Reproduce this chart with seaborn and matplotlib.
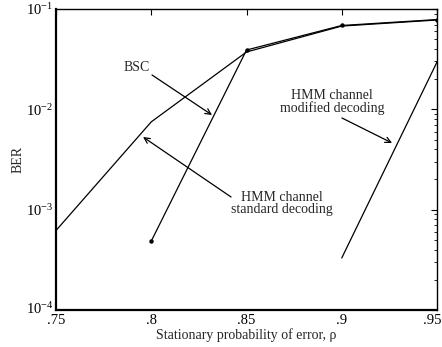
import numpy as np
import pandas as pd
import matplotlib
matplotlib.use("Agg")
import matplotlib.pyplot as plt
import matplotlib.transforms as mtrans
import seaborn as sns
from matplotlib.ticker import FixedLocator, FixedFormatter, LogLocator, NullFormatter

# ---- data ----
rho_std = [0.75, 0.80, 0.85, 0.90, 0.95]
ber_std = [6.2e-4, 7.5e-3, 0.0373, 0.0676, 0.0777]

rho_bsc = [0.80, 0.85, 0.90, 0.95]
ber_bsc = [4.86e-4, 0.0390, 0.0685, 0.0785]

rho_mod = [0.90, 0.95]
ber_mod = [3.3e-4, 0.0296]

x_ticks = [0.75, 0.80, 0.85, 0.90, 0.95]
x_ticklabels = [".75", ".8", ".85", ".9", ".95"]
y_ticks = [1e-4, 1e-3, 1e-2, 1e-1]
y_ticklabels = [r"$10^{-4}$", r"$10^{-3}$", r"$10^{-2}$", r"$10^{-1}$"]

sns.set_style("white")
plt.rcParams["font.family"] = ["Liberation Serif", "DejaVu Serif"]
plt.rcParams["mathtext.fontset"] = "custom"
plt.rcParams["mathtext.rm"] = "Liberation Serif"
plt.rcParams["mathtext.it"] = "Liberation Serif:italic"

FS = 10          # annotation / axis labels
TFS = 10.5       # tick labels

fig = plt.figure(figsize=(4.42, 3.47), dpi=100)
ax = fig.add_axes([56/442, 37/347, 381/442, 301/347])

df_std = pd.DataFrame({"rho": rho_std, "ber": ber_std})
df_bsc = pd.DataFrame({"rho": rho_bsc, "ber": ber_bsc})
df_mod = pd.DataFrame({"rho": rho_mod, "ber": ber_mod})

sns.lineplot(data=df_std, x="rho", y="ber", ax=ax, color="black", lw=0.9)
sns.lineplot(data=df_bsc, x="rho", y="ber", ax=ax, color="black", lw=0.9,
             marker="o", markersize=3.2, markeredgewidth=0)
sns.lineplot(data=df_mod, x="rho", y="ber", ax=ax, color="black", lw=0.9)

ax.set_yscale("log")
ax.set_xlim(0.75, 0.95)
ax.set_ylim(1e-4, 1e-1)

ax.xaxis.set_major_locator(FixedLocator(x_ticks))
ax.xaxis.set_major_formatter(FixedFormatter(x_ticklabels))
ax.yaxis.set_major_locator(FixedLocator(y_ticks))
ax.yaxis.set_major_formatter(FixedFormatter(y_ticklabels))
ax.yaxis.set_minor_locator(LogLocator(base=10, subs=np.arange(2, 10)))
ax.yaxis.set_minor_formatter(NullFormatter())

ax.tick_params(axis="both", which="both", direction="in", top=True, right=True,
               labelsize=TFS, colors="black")
ax.tick_params(axis="both", which="major", length=4, width=0.8)
ax.tick_params(axis="y", which="minor", length=2.5, width=0.6)
ax.tick_params(axis="x", which="major", pad=3)
ax.tick_params(axis="y", which="major", pad=2)

for side in ["left", "bottom"]:
    ax.spines[side].set_linewidth(1.6)
for side in ["top", "right"]:
    ax.spines[side].set_linewidth(1.0)
for s in ax.spines.values():
    s.set_color("black")
    s.set_visible(True)

ax.set_xlabel("Stationary probability of error, ρ", fontsize=FS, labelpad=0.5)
ax.set_ylabel("BER", fontsize=FS, labelpad=1)

fig.canvas.draw()
last = ax.get_xticklabels()[-1]
last.set_horizontalalignment("right")
last.set_transform(last.get_transform() + mtrans.ScaledTranslation(5/100, 0, fig.dpi_scale_trans))
first_y = ax.get_yticklabels()[0]
first_y.set_transform(first_y.get_transform() + mtrans.ScaledTranslation(0, 2/100, fig.dpi_scale_trans))

arrow = dict(arrowstyle="->", color="black", lw=0.9, shrinkA=0, shrinkB=0)
ax.annotate("", xy=(0.8319, 0.00878), xytext=(0.8004, 0.022), arrowprops=arrow)
ax.text(0.7925, 0.0264, "BSC", ha="center", va="center", fontsize=FS)

ax.annotate("", xy=(0.7957, 0.0053), xytext=(0.8419, 0.001337), arrowprops=arrow)
ax.text(0.8686, 0.00115, "HMM channel\nstandard decoding", ha="center", va="center",
        multialignment="center", fontsize=FS, linespacing=0.85)

ax.annotate("", xy=(0.9264, 0.00462), xytext=(0.9001, 0.0082), arrowprops=arrow)
ax.text(0.8949, 0.01183, "HMM channel\nmodified decoding", ha="center", va="center",
        multialignment="center", fontsize=FS, linespacing=0.85)

fig.savefig("out.png", dpi=100)
